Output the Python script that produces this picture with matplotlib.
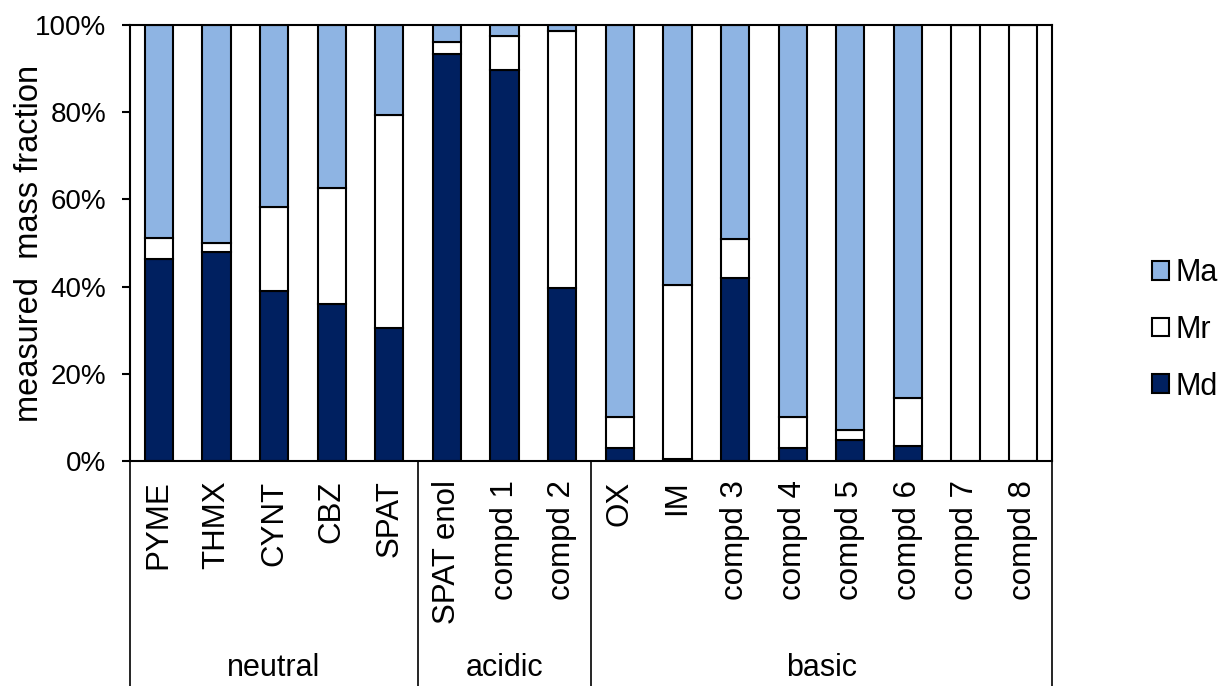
import numpy as np
import matplotlib.pyplot as plt

plt.rcParams['font.family'] = ['Liberation Sans', 'DejaVu Sans']

# data (percent of measured mass)
compounds = ['PYME', 'THMX', 'CYNT', 'CBZ', 'SPAT',
             'SPAT enol', 'compd 1', 'compd 2',
             'OX', 'IM', 'compd 3', 'compd 4', 'compd 5', 'compd 6', 'compd 7', 'compd 8']
md = [46.3, 48.0, 39.0, 36.0, 30.5, 93.3, 89.7, 39.7, 3.0, 0.5, 42.0, 3.0, 4.7, 3.4, 0.0, 0.0]
mr = [4.8, 2.0, 19.3, 26.6, 48.9, 2.8, 7.8, 58.9, 7.0, 39.9, 9.0, 7.0, 2.4, 11.0, 100.0, 100.0]
groups = ['neutral', 'acidic', 'basic']
group_sizes = [5, 3, 8]

md = np.array(md)
mr = np.array(mr)
ma = 100 - md - mr

fig = plt.figure(figsize=(12.21, 6.86), dpi=100)
ax = fig.add_axes([0.1065, 0.328, 0.755, 0.6356])

x = np.arange(len(compounds))
w = 0.49
ax.bar(x, md, w, color='#002060', edgecolor='black', lw=1.5, label='Md')
ax.bar(x, mr, w, bottom=md, color='white', edgecolor='black', lw=1.5, label='Mr')
ax.bar(x, ma, w, bottom=md + mr, color='#8EB4E3', edgecolor='black', lw=1.5, label='Ma')

ax.set_xlim(-0.5, len(compounds) - 0.5)
ax.set_ylim(0, 100)
ax.set_yticks(np.arange(0, 101, 20))
ax.set_yticklabels([f'{v}%' for v in range(0, 101, 20)], fontsize=20)
ax.set_xticks(x)
ax.set_xticklabels(compounds, rotation=90, fontsize=22.5, va='top')
ax.tick_params(axis='x', length=0, pad=14)
ax.tick_params(axis='y', direction='out', length=6, width=1.5, pad=11)
for s in ax.spines.values():
    s.set_linewidth(1.5)
fig.text(30 / 1221, 1 - 243 / 686, 'measured  mass fraction', rotation=90,
         ha='center', va='center', fontsize=23.5)

# group separators and labels under the axis
trans = ax.get_xaxis_transform()
edges = np.concatenate([[0], np.cumsum(group_sizes)]) - 0.5
for e in edges:
    ax.plot([e, e], [0, -0.6], color='black', lw=1.2, transform=trans, clip_on=False)
for i, g in enumerate(groups):
    ax.text((edges[i] + edges[i + 1]) / 2, -0.475, g, transform=trans,
            ha='center', va='center', fontsize=22)

h, l = ax.get_legend_handles_labels()
fig.legend(h[::-1], l[::-1], loc='center left', bbox_to_anchor=(0.9435, 0.519),
           frameon=False, fontsize=22, handlelength=0.56, handleheight=0.56,
           handletextpad=0.2, labelspacing=0.87, borderaxespad=0, borderpad=0)

fig.savefig('out.png', dpi=100)
